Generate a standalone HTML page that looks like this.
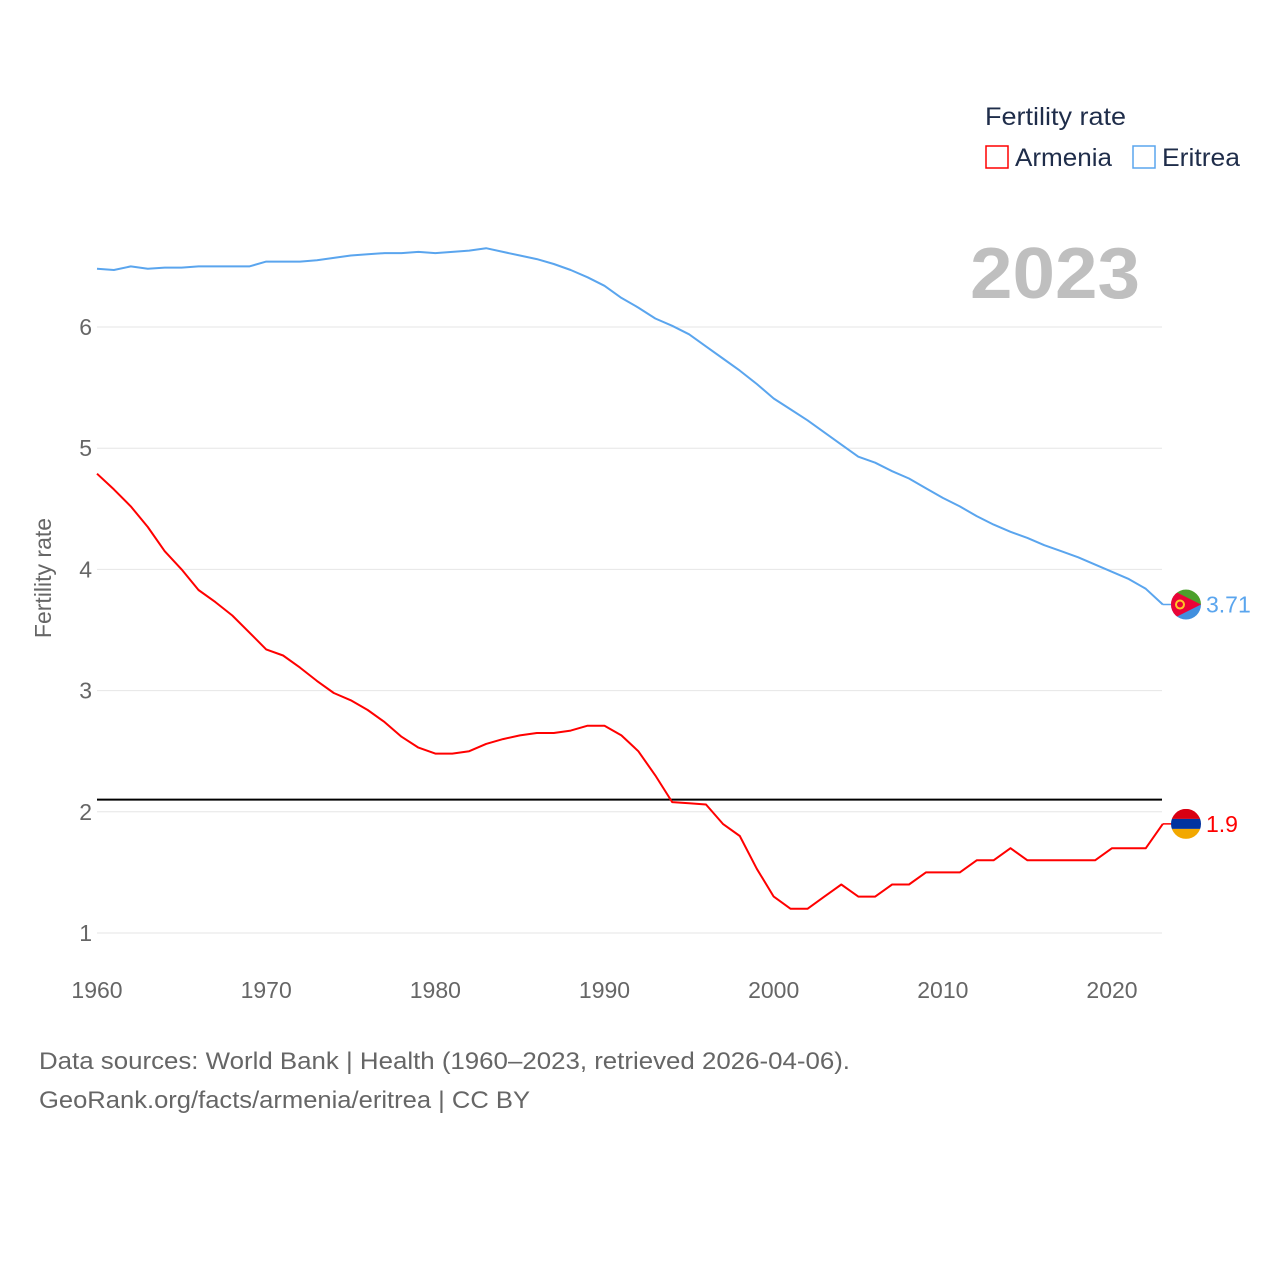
<!DOCTYPE html>
<html><head><meta charset="utf-8"><style>
body{margin:0;background:#fff;}
svg text{font-family:"Liberation Sans",sans-serif;}
</style></head><body>
<svg width="1280" height="1280" xmlns="http://www.w3.org/2000/svg">
<g id="grid"></g>
<g id="lines"></g>
<text x="970" y="298" textLength="170" lengthAdjust="spacingAndGlyphs" font-size="72" font-weight="bold" fill="#bfbfbf">2023</text>
<text x="985" y="125" textLength="141" lengthAdjust="spacingAndGlyphs" font-size="25" fill="#1f2d4a">Fertility rate</text>
<rect x="986" y="146" width="22" height="22" fill="none" stroke="red" stroke-width="1.5"/>
<text x="1015" y="166" textLength="97" lengthAdjust="spacingAndGlyphs" font-size="25" fill="#1f2d4a">Armenia</text>
<rect x="1133" y="146" width="22" height="22" fill="none" stroke="#5aa5ee" stroke-width="1.5"/>
<text x="1162" y="166" textLength="78" lengthAdjust="spacingAndGlyphs" font-size="25" fill="#1f2d4a">Eritrea</text>
<text transform="translate(51,578) rotate(-90)" text-anchor="middle" font-size="23" fill="#666">Fertility rate</text>
<text x="39" y="1069" textLength="811" lengthAdjust="spacingAndGlyphs" font-size="24" fill="#666">Data sources: World Bank | Health (1960–2023, retrieved 2026-04-06).</text>
<text x="39" y="1108" textLength="491" lengthAdjust="spacingAndGlyphs" font-size="24" fill="#666">GeoRank.org/facts/armenia/eritrea | CC BY</text>
</svg>
<script>
const years = []; for (let y = 1960; y <= 2023; y++) years.push(y);
const armenia = [4.79,4.66,4.52,4.35,4.15,4.0,3.83,3.73,3.62,3.48,3.34,3.29,3.19,3.08,2.98,2.92,2.84,2.74,2.62,2.53,2.48,2.48,2.5,2.56,2.6,2.63,2.65,2.65,2.67,2.71,2.71,2.63,2.5,2.3,2.08,2.07,2.06,1.9,1.8,1.53,1.3,1.2,1.2,1.3,1.4,1.3,1.3,1.4,1.4,1.5,1.5,1.5,1.6,1.6,1.7,1.6,1.6,1.6,1.6,1.6,1.7,1.7,1.7,1.9];
const eritrea = [6.48,6.47,6.5,6.48,6.49,6.49,6.5,6.5,6.5,6.5,6.54,6.54,6.54,6.55,6.57,6.59,6.6,6.61,6.61,6.62,6.61,6.62,6.63,6.65,6.62,6.59,6.56,6.52,6.47,6.41,6.34,6.24,6.16,6.07,6.01,5.94,5.84,5.74,5.64,5.53,5.41,5.32,5.23,5.13,5.03,4.93,4.88,4.81,4.75,4.67,4.59,4.52,4.44,4.37,4.31,4.26,4.2,4.15,4.1,4.04,3.98,3.92,3.84,3.71];
const yTicks = [1,2,3,4,5,6];
const xTicks = [1960,1970,1980,1990,2000,2010,2020];
const replacement = 2.1;
const NS = "http://www.w3.org/2000/svg";
const xs = y => 97 + (y - 1960) * (1015 / 60);
const ys = v => 933 - (v - 1) * 121.2;
const grid = document.getElementById('grid'), lines = document.getElementById('lines');
function mk(tag, attrs, parent){const e=document.createElementNS(NS,tag);for(const k in attrs)e.setAttribute(k,attrs[k]);parent.appendChild(e);return e;}
yTicks.forEach(t=>{
  const l=mk('line',{x1:97,x2:1162,y1:ys(t),y2:ys(t),stroke:'#e6e6e6','stroke-width':1},grid);
  
  
  const tx=mk('text',{x:92,y:ys(t)+8,'text-anchor':'end','font-size':23,fill:'#666'},grid);
  tx.textContent=t;
  
  
});
xTicks.forEach(t=>{
  const tx=mk('text',{x:xs(t),y:998,'text-anchor':'middle','font-size':23,fill:'#666'},grid);
  tx.textContent=t;
  
  
});
const rl=mk('line',{x1:97,x2:1162,y1:ys(replacement),y2:ys(replacement),stroke:'#000','stroke-width':2},lines);


function series(vals,color,name){
  const d=vals.map((v,i)=>(i?'L':'M')+xs(years[i]).toFixed(1)+' '+ys(v).toFixed(1)).join(' ');
  const p=mk('path',{d:d,fill:'none',stroke:color,'stroke-width':2,'stroke-linejoin':'round'},lines);
  
  
  const last=vals[vals.length-1], lx=xs(2023), ly=ys(last);
  mk('line',{x1:lx,x2:1186,y1:ly,y2:ly,stroke:color,'stroke-width':1.5},lines);
  const t=mk('text',{x:1206,y:ly+8,'font-size':23,fill:color},lines);
  t.textContent=last;
  
  
  return ly;
}
const ay=series(armenia,'red','armenia');
const ey=series(eritrea,'#5aa5ee','eritrea');
const fa=mk('g',{},lines);


const ca=mk('clipPath',{id:'ca'},fa);mk('circle',{cx:1186,cy:ay,r:15},ca);
const ga=mk('g',{'clip-path':'url(#ca)'},fa);
mk('rect',{x:1171,y:ay-15,width:30,height:10,fill:'#d90012'},ga);
mk('rect',{x:1171,y:ay-5,width:30,height:10,fill:'#0033a0'},ga);
mk('rect',{x:1171,y:ay+5,width:30,height:10,fill:'#f2a800'},ga);
const fe=mk('g',{},lines);


const ce=mk('clipPath',{id:'ce'},fe);mk('circle',{cx:1186,cy:ey,r:15},ce);
const ge=mk('g',{'clip-path':'url(#ce)'},fe);
mk('rect',{x:1171,y:ey-15,width:30,height:15,fill:'#4ca02c'},ge);
mk('rect',{x:1171,y:ey,width:30,height:15,fill:'#418fde'},ge);
mk('polygon',{points:`1171,${ey-15} 1201,${ey} 1171,${ey+15}`,fill:'#ea0437'},ge);
mk('circle',{cx:1180,cy:ey,r:4,fill:'none',stroke:'#ffc726','stroke-width':2},ge);
</script>
</body></html>
